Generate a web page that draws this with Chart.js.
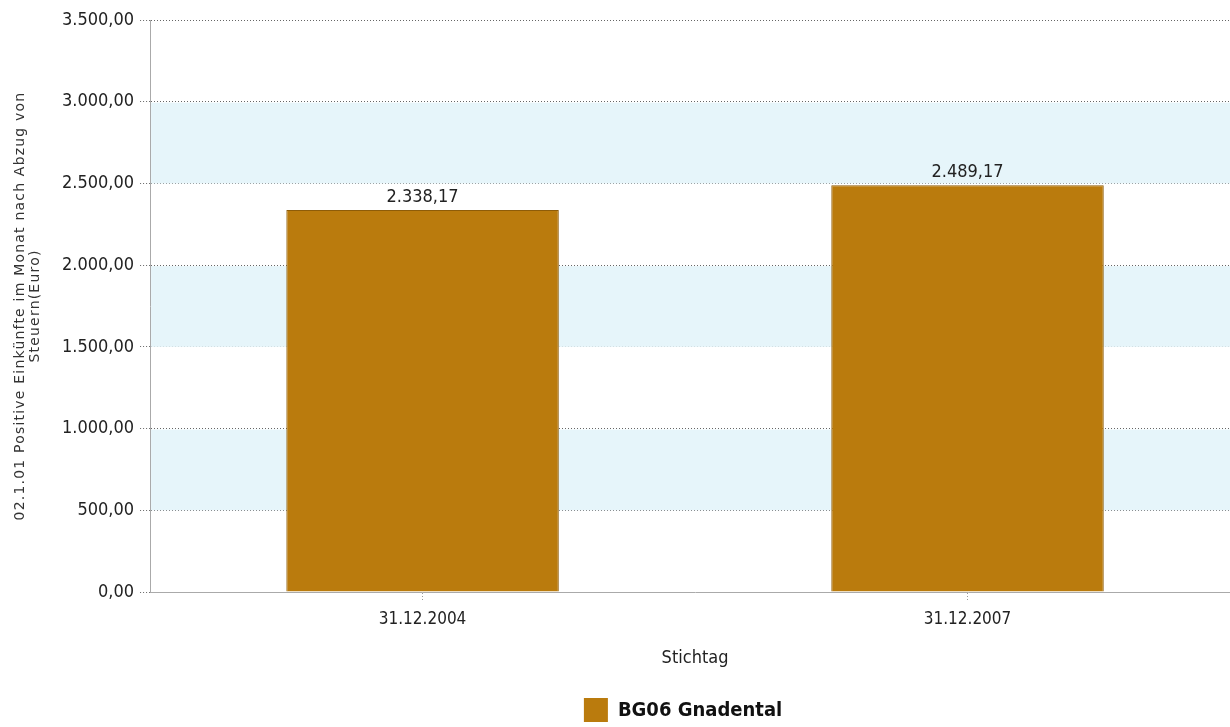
<!DOCTYPE html>
<html>
<head>
<meta charset="utf-8">
<script src="https://cdn.jsdelivr.net/npm/chart.js@4.4.1/dist/chart.umd.min.js"></script>
<style>
    html, body { margin: 0; padding: 0; background: #fff; overflow: hidden; }
    #wrap { width: 1240px; height: 727px; position: relative; }
</style>
</head>
<body>
<div id="wrap"><canvas id="chart"></canvas></div>
<script>
// chart data
const categories = ['31.12.2004', '31.12.2007'];
const seriesName = 'BG06 Gnadental';
const seriesValues = [2338.17, 2489.17];
const yMax = 3500;
const yStep = 500;
const yTitle = ['02.1.01 Positive Einkünfte im Monat nach Abzug von', 'Steuern(Euro)'];
const xTitle = 'Stichtag';

const barColor = '#BA7B0D';
const bandColor = '#E6F5FA';
const mainFont = '"DejaVu Sans Condensed", "DejaVu Sans", sans-serif';

// German number format: 2.338,17
function formatNumber(value) {
    const parts = Math.abs(value).toFixed(2).split('.');
    const intPart = parts[0].replace(/\B(?=(\d{3})+(?!\d))/g, '.');
    return (value < 0 ? '-' : '') + intPart + ',' + parts[1];
}

// alternating light blue bands behind the bars
const bandPlugin = {
    id: 'bands',
    beforeDatasetsDraw(chart) {
        const { ctx, chartArea, scales } = chart;
        const y = scales.y;
        ctx.save();
        ctx.fillStyle = bandColor;
        for (let v = yMax - yStep; v > 0; v -= 2 * yStep) {
            const top = y.getPixelForValue(v);
            const bottom = y.getPixelForValue(v - yStep);
            ctx.fillRect(chartArea.left + 1, top + 1, chartArea.right - chartArea.left, bottom - top - 1);
        }
        ctx.restore();
    }
};

// value labels above each bar
const valueLabelPlugin = {
    id: 'valueLabels',
    afterDatasetsDraw(chart) {
        const { ctx } = chart;
        const meta = chart.getDatasetMeta(0);
        ctx.save();
        ctx.font = '18px ' + mainFont;
        ctx.fillStyle = '#222';
        ctx.textAlign = 'center';
        ctx.textBaseline = 'bottom';
        meta.data.forEach((bar, i) => {
            ctx.fillText(formatNumber(seriesValues[i]), bar.x, bar.y - 4);
        });
        ctx.restore();
    }
};

// rotated y axis title, two tight lines
const yTitlePlugin = {
    id: 'yTitle',
    afterDraw(chart) {
        const { ctx, chartArea } = chart;
        const midY = (chartArea.top + chartArea.bottom) / 2;
        ctx.save();
        ctx.font = '14px "DejaVu Sans", Verdana, sans-serif';
        if ('letterSpacing' in ctx) ctx.letterSpacing = '1.2px';
        ctx.fillStyle = '#333';
        ctx.textAlign = 'center';
        ctx.textBaseline = 'middle';
        ctx.translate(0, midY);
        ctx.rotate(-Math.PI / 2);
        yTitle.forEach((line, i) => {
            ctx.fillText(line, 0, 20 + i * 15);
        });
        ctx.restore();
    }
};

// legend drawn under the axis title
const legendPlugin = {
    id: 'customLegend',
    afterDraw(chart) {
        const { ctx, chartArea } = chart;
        const ds = chart.data.datasets[0];
        ctx.save();
        ctx.font = 'bold 20px ' + mainFont;
        const textW = ctx.measureText(ds.label).width;
        const boxSize = 24;
        const gap = 10;
        const total = boxSize + gap + textW;
        const cx = (chartArea.left + chartArea.right) / 2 - 12;
        const x0 = cx - total / 2;
        const yMid = 710;
        ctx.fillStyle = barColor;
        ctx.fillRect(x0, yMid - boxSize / 2, boxSize, boxSize);
        ctx.fillStyle = '#111';
        ctx.textBaseline = 'middle';
        ctx.textAlign = 'left';
        ctx.fillText(ds.label, x0 + boxSize + gap, yMid + 1);
        ctx.restore();
    }
};

new Chart(document.getElementById('chart'), {
    type: 'bar',
    data: {
        labels: categories,
        datasets: [{
            label: seriesName,
            data: seriesValues,
            backgroundColor: barColor,
            borderColor: '#8E5C08',
            borderWidth: 1,
            barPercentage: 0.5,
            categoryPercentage: 1
        }]
    },
    options: {
        responsive: true,
        maintainAspectRatio: false,
        animation: false,
        layout: {
            padding: { top: 20, right: 0, bottom: 58, left: 56 }
        },
        plugins: {
            legend: { display: false },
            tooltip: { enabled: false }
        },
        scales: {
            x: {
                grid: {
                    offset: false,
                    drawOnChartArea: false,
                    drawTicks: true,
                    tickLength: 8,
                    color: '#999',
                    tickBorderDash: [1, 2]
                },
                border: { color: '#aaa' },
                ticks: {
                    color: '#222',
                    font: { family: mainFont, size: 17 },
                    padding: 9
                },
                title: {
                    display: true,
                    text: xTitle,
                    color: '#222',
                    font: { family: mainFont, size: 18 },
                    padding: { top: 9, bottom: 0 }
                }
            },
            y: {
                min: 0,
                max: yMax,
                grid: {
                    color: '#666',
                    tickLength: 10,
                    tickBorderDash: [1, 2]
                },
                border: { color: '#aaa', dash: [1, 2] },
                ticks: {
                    stepSize: yStep,
                    color: '#222',
                    font: { family: mainFont, size: 18 },
                    padding: 6,
                    callback: (value) => formatNumber(value)
                },
                title: { display: false }
            }
        }
    },
    plugins: [bandPlugin, valueLabelPlugin, yTitlePlugin, legendPlugin]
});
</script>
</body>
</html>
